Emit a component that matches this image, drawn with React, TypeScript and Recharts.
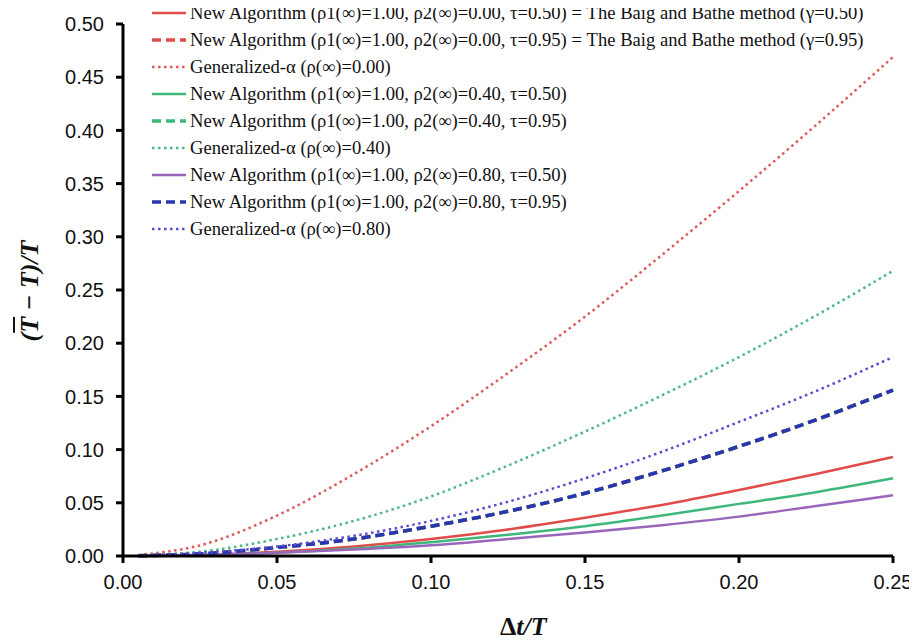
import { LineChart, Line, XAxis, YAxis, Legend } from 'recharts';

// Δt/T sample points
const dtT = [0.005, 0.025, 0.05, 0.075, 0.1, 0.125, 0.15, 0.175, 0.2, 0.225, 0.25];

// period elongation (T̄ - T)/T
const newR0Tau50 = [0.0001, 0.001, 0.004, 0.009, 0.016, 0.025, 0.036, 0.048, 0.062, 0.077, 0.093];
const newR0Tau95 = [0.0003, 0.002, 0.008, 0.016, 0.028, 0.042, 0.059, 0.08, 0.103, 0.128, 0.156];
const genAlpha0 = [0.001, 0.01, 0.038, 0.077, 0.122, 0.172, 0.225, 0.283, 0.343, 0.405, 0.469];
const newR4Tau50 = [0.0001, 0.001, 0.003, 0.007, 0.013, 0.02, 0.028, 0.038, 0.049, 0.06, 0.073];
const newR4Tau95 = [0.0003, 0.002, 0.008, 0.016, 0.028, 0.042, 0.059, 0.08, 0.103, 0.128, 0.156];
const genAlpha4 = [0.0005, 0.004, 0.016, 0.033, 0.056, 0.085, 0.117, 0.151, 0.187, 0.226, 0.268];
const newR8Tau50 = [0.0001, 0.001, 0.003, 0.006, 0.01, 0.016, 0.022, 0.029, 0.037, 0.047, 0.057];
const newR8Tau95 = [0.0003, 0.002, 0.008, 0.016, 0.028, 0.042, 0.059, 0.08, 0.103, 0.128, 0.156];
const genAlpha8 = [0.0003, 0.003, 0.009, 0.019, 0.033, 0.051, 0.073, 0.098, 0.126, 0.155, 0.187];

const xTicks = [0, 0.05, 0.1, 0.15, 0.2, 0.25];
const yTicks = [0, 0.05, 0.1, 0.15, 0.2, 0.25, 0.3, 0.35, 0.4, 0.45, 0.5];

const series = [
  { key: 'a', values: newR0Tau50, color: '#E04B4B', dash: undefined, width: 2.5, name: 'New Algorithm (ρ1(∞)=1.00, ρ2(∞)=0.00, τ=0.50) = The Baig and Bathe method (γ=0.50)' },
  { key: 'b', values: newR0Tau95, color: '#E04B4B', dash: '9 5', width: 3.5, name: 'New Algorithm (ρ1(∞)=1.00, ρ2(∞)=0.00, τ=0.95) = The Baig and Bathe method (γ=0.95)' },
  { key: 'c', values: genAlpha0, color: '#DD5A5A', dash: '2.5 3.5', width: 2.5, name: 'Generalized-α (ρ(∞)=0.00)' },
  { key: 'd', values: newR4Tau50, color: '#3DB87A', dash: undefined, width: 2.5, name: 'New Algorithm (ρ1(∞)=1.00, ρ2(∞)=0.40, τ=0.50)' },
  { key: 'e', values: newR4Tau95, color: '#3DB87A', dash: '9 5', width: 3.5, name: 'New Algorithm (ρ1(∞)=1.00, ρ2(∞)=0.40, τ=0.95)' },
  { key: 'f', values: genAlpha4, color: '#4CB882', dash: '2.5 3.5', width: 2.5, name: 'Generalized-α (ρ(∞)=0.40)' },
  { key: 'g', values: newR8Tau50, color: '#9966BB', dash: undefined, width: 2.5, name: 'New Algorithm (ρ1(∞)=1.00, ρ2(∞)=0.80, τ=0.50)' },
  { key: 'h', values: newR8Tau95, color: '#2A35B0', dash: '9 5', width: 3.5, name: 'New Algorithm (ρ1(∞)=1.00, ρ2(∞)=0.80, τ=0.95)' },
  { key: 'i', values: genAlpha8, color: '#5B4BD1', dash: '2.5 3.5', width: 2.5, name: 'Generalized-α (ρ(∞)=0.80)' },
];

const data = dtT.map((x, i) => {
  const row: any = { x };
  series.forEach((s) => (row[s.key] = s.values[i]));
  return row;
});

const serif = '"Liberation Serif", "Times New Roman", serif';
const sans = '"Liberation Sans", Arial, sans-serif';

function LegendBox() {
  return (
    <div style={{ fontFamily: serif, fontSize: 18.6, color: '#111' }}>
      {series.map((s) => (
        <div key={s.key} style={{ display: 'flex', alignItems: 'center', height: 27, whiteSpace: 'nowrap' }}>
          <svg width={38} height={10}>
            <line x1={0} y1={5} x2={34} y2={5} stroke={s.color} strokeWidth={s.width} strokeDasharray={s.dash} />
          </svg>
          <span>{s.name}</span>
        </div>
      ))}
    </div>
  );
}

export default function App() {
  return (
    <div style={{ position: 'relative', width: 909, height: 635 }}>
      <LineChart width={909} height={635} data={data} margin={{ top: 16, right: 24, bottom: 27, left: 40 }}>
        <XAxis
          dataKey="x"
          type="number"
          domain={[0, 0.25]}
          ticks={xTicks}
          tickFormatter={(v: number) => v.toFixed(2)}
          height={60}
          stroke="#000"
          strokeWidth={3}
          tickSize={7}
          tickMargin={12}
          tick={{ fill: '#111', fontSize: 20, fontFamily: sans }}
        />
        <YAxis
          type="number"
          domain={[0, 0.5]}
          ticks={yTicks}
          tickFormatter={(v: number) => v.toFixed(2)}
          width={75}
          stroke="#000"
          strokeWidth={3}
          tickSize={7}
          tickMargin={12}
          tick={{ fill: '#111', fontSize: 20, fontFamily: sans }}
        />
        <Legend
          layout="vertical"
          align="center"
          verticalAlign="middle"
          content={() => <LegendBox />}
          wrapperStyle={{ top: -9, left: 144, width: 760 }}
        />
        {series.map((s) => (
          <Line
            key={s.key}
            dataKey={s.key}
            name={s.name}
            type="monotone"
            stroke={s.color}
            strokeWidth={s.width}
            strokeDasharray={s.dash}
            dot={false}
            isAnimationActive={false}
          />
        ))}
      </LineChart>
      <div
        style={{
          position: 'absolute', left: 492, top: 604, fontFamily: serif, fontSize: 26,
          fontWeight: 'bold', fontStyle: 'italic', color: '#111',
        }}
      >
        <span style={{ fontStyle: 'normal' }}>Δ</span>t/T
      </div>
      <div
        style={{
          position: 'absolute', left: 22, top: 283, transform: 'translate(-50%, -50%) rotate(-90deg)',
          fontFamily: serif, fontSize: 26, fontWeight: 'bold', fontStyle: 'italic', color: '#111', whiteSpace: 'nowrap',
        }}
      >
        (<span style={{ textDecoration: 'overline' }}>T</span> − T)/T
      </div>
    </div>
  );
}
